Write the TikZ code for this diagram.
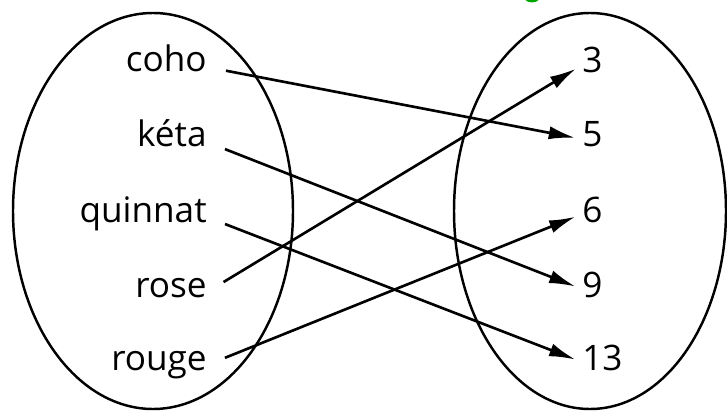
\documentclass[tikz,border=0pt]{standalone}
\usepackage{fontspec}
\setmainfont{Open Sans}
\usetikzlibrary{arrows.meta}

\begin{document}
\begin{tikzpicture}[x=0.02cm,y=-0.02cm,every node/.style={font=\fontsize{20}{24}\selectfont,inner sep=0pt,text depth=0pt},
  src/.style={anchor=base east,text height=1.05ex},
  img/.style={anchor=base west,text height=0.9em},
  map/.style={line width=1.5pt,shorten <=11pt,shorten >=4pt,-{Latex[length=15pt,width=7.5pt]}}]
\useasboundingbox (0,0) rectangle (727,412);
\begin{scope}
\clip (0,0) rectangle (727,412);
\fill[green!65!black] (532,-8) circle (10.5);
\end{scope}
\draw[line width=1.4pt] (153,211) ellipse (140 and 198);
\draw[line width=1.4pt] (590,211) ellipse (136 and 198);
\node[src] (coho) at (207,72) {coho};
\node[src] (keta) at (207,147) {kéta};
\node[src] (quinnat) at (207,222) {quinnat};
\node[src] (rose) at (207,297) {rose};
\node[src] (rouge) at (207,370) {rouge};
\node[img] (n3) at (582,73) {3};
\node[img] (n5) at (582,147) {5};
\node[img] (n6) at (582,222) {6};
\node[img] (n9) at (582,297) {9};
\node[img] (n13) at (582,370) {13};
\draw[map] (coho.east) -- (n5.west);
\draw[map] (keta.east) -- (n9.west);
\draw[map] (quinnat.east) -- (n13.west);
\draw[map] (rose.east) -- (n3.west);
\draw[map] (rouge.east) -- (n6.west);
\end{tikzpicture}
\end{document}
